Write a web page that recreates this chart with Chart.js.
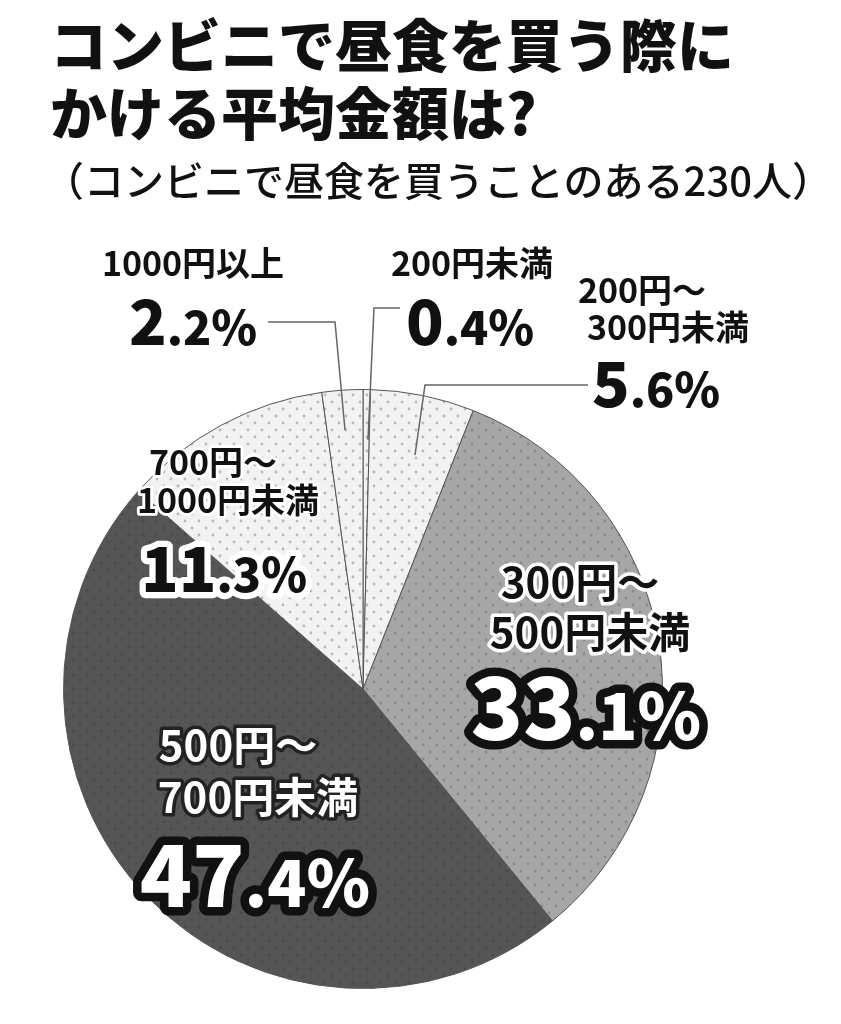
<!DOCTYPE html>
<html><head><meta charset="utf-8">
<script src="https://cdn.jsdelivr.net/npm/chart.js@4"></script>
<style>
body{margin:0;background:#fff;width:841px;height:1024px;overflow:hidden;font-family:"Noto Sans CJK JP",sans-serif}
#t{position:absolute;left:50px;top:8px;font-weight:900;font-size:57px;line-height:68px;color:#111;letter-spacing:0px}
#s{position:absolute;left:44px;top:150px;font-size:40px;color:#111;font-weight:500;white-space:nowrap}
#c{position:absolute;left:0;top:0}
</style></head><body>
<canvas id="c" width="841" height="1024"></canvas>
<div id="t">コンビニで昼食を買う際に<br>かける平均金額は?</div>
<div id="s">（コンビニで昼食を買うことのある230人）</div>
<script>
const categories=["200円未満","200円～300円未満","300円～500円未満","500円～700円未満","700円～1000円未満","1000円以上"];
const values=[0.4,5.6,33.1,47.4,11.3,2.2];
const valueLabels=["0.4%","5.6%","33.1%","47.4%","11.3%","2.2%"];

function pat(bg,dot){const p=document.createElement('canvas');p.width=p.height=14;const x=p.getContext('2d');
x.fillStyle=bg;x.fillRect(0,0,14,14);x.fillStyle=dot;
[[3,3],[10,10]].forEach(([a,b])=>{x.beginPath();x.arc(a,b,1.4,0,7);x.fill();});
return x.createPattern(p,'repeat');}
const ctx0=document.getElementById('c').getContext('2d');
const light=pat('#f2f2f2','#b8b8b8'),mid=pat('#a6a6a6','#8a8a8a'),dark=pat('#555555','#4a4a4a');
const fills=[light,light,mid,dark,light,light];

function txt(c,s,x,y,size,fill,stroke,weight){c.font=(weight||700)+' '+size+'px "Noto Sans CJK JP"';c.textAlign='center';c.textBaseline='middle';
if(stroke){c.lineJoin='round';c.lineWidth=size/6;c.strokeStyle=stroke;c.strokeText(s,x,y);}c.fillStyle=fill;c.fillText(s,x,y);}
function pct(c,s,x,y,size,fill,stroke){const i=s.indexOf('.');const a=s.slice(0,i),b=s.slice(i);
c.font='900 '+size+'px "Noto Sans CJK JP"';const wa=c.measureText(a).width;
c.font='900 '+size*0.75+'px "Noto Sans CJK JP"';const wb=c.measureText(b).width;
const x0=x-(wa+wb)/2;c.textAlign='left';c.textBaseline='alphabetic';c.lineJoin='round';
[[a,size,x0],[b,size*0.75,x0+wa]].forEach(([t,sz,xx])=>{c.font='900 '+sz+'px "Noto Sans CJK JP"';
if(stroke){c.lineWidth=size/5;c.strokeStyle=stroke;c.strokeText(t,xx,y);}c.fillStyle=fill;c.fillText(t,xx,y);});}
function line(c,pts){c.beginPath();c.moveTo(...pts[0]);pts.slice(1).forEach(p=>c.lineTo(...p));c.strokeStyle='#666';c.lineWidth=1.5;c.stroke();}

const labels={id:'lab',afterDraw(ch){const c=ch.ctx;c.save();
line(c,[[268,322],[335,322],[345,430]]);
line(c,[[400,308],[374,308],[368,440]]);
line(c,[[588,385],[425,385],[415,455]]);
txt(c,"1000円以上",193,263,34,'#111');pct(c,valueLabels[5],193,345,62,'#111');
txt(c,"200円未満",472,263,34,'#111');pct(c,valueLabels[0],470,345,62,'#111');
txt(c,"200円～",642,290,34,'#111');txt(c,"300円未満",668,327,34,'#111');pct(c,valueLabels[1],656,407,62,'#111');
txt(c,"700円～",213,462,34,'#111','#fff');txt(c,"1000円未満",228,500,34,'#111','#fff');pct(c,valueLabels[4],224,592,62,'#111','#fff');
txt(c,"300円～",580,582,42,'#111','#fff');txt(c,"500円未満",590,632,42,'#111','#fff');pct(c,valueLabels[2],586,740,86,'#fff','#111');
txt(c,"500円～",238,745,42,'#fff','#222');txt(c,"700円未満",258,797,42,'#fff','#222');pct(c,valueLabels[3],255,907,86,'#fff','#111');
c.restore();}};

new Chart(ctx0,{type:'pie',data:{labels:categories,datasets:[{data:values,backgroundColor:fills,borderColor:'#555',borderWidth:1}]},
options:{responsive:false,animation:false,layout:{padding:{top:389,bottom:35,left:63,right:178}},
plugins:{legend:{display:false},tooltip:{enabled:false}}},plugins:[labels]});
</script></body></html>
